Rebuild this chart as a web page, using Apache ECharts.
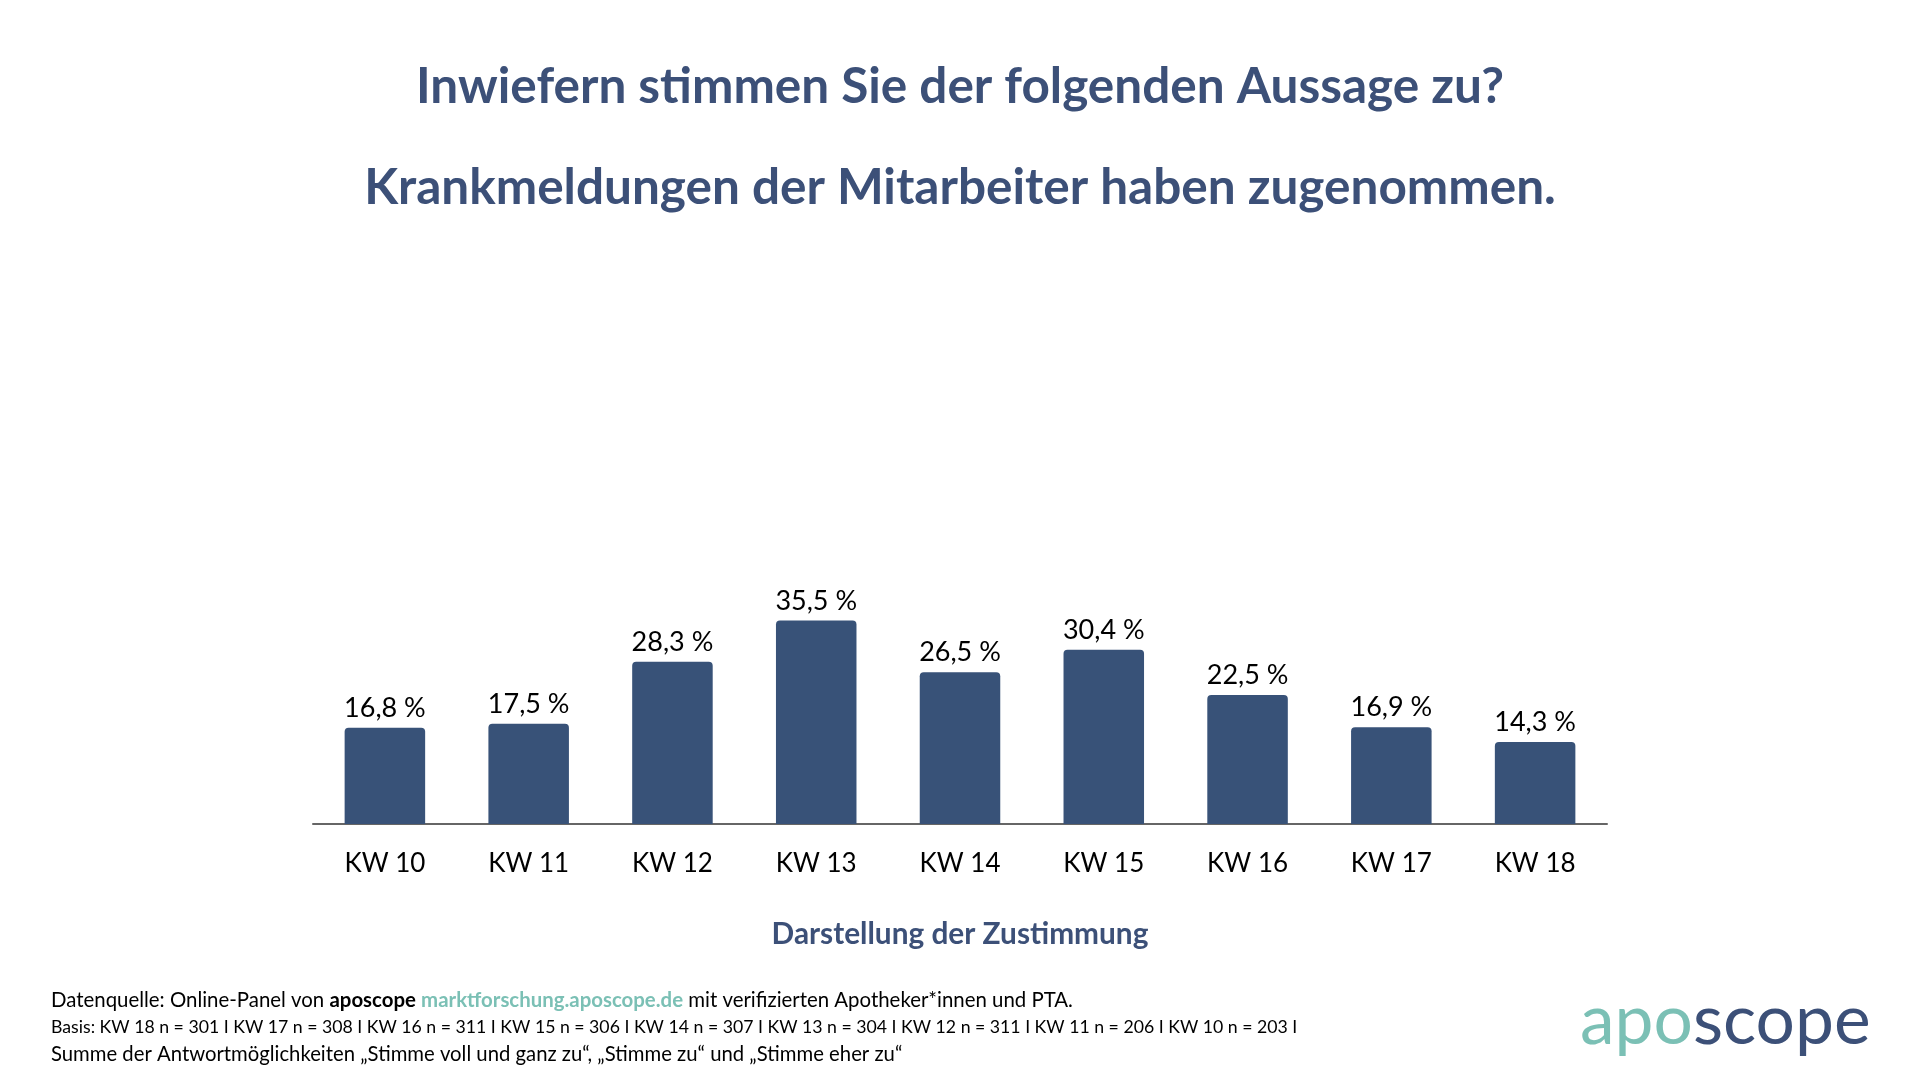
<!DOCTYPE html>
<html>
<head>
<meta charset="utf-8">
<script src="https://cdn.jsdelivr.net/npm/echarts@6/dist/echarts.min.js"></script>
<style>html,body{margin:0;padding:0;background:#fff;}#c{width:1920px;height:1080px;}</style>
</head>
<body>
<div id="c"></div>
<script>
const categories = ['KW 10','KW 11','KW 12','KW 13','KW 14','KW 15','KW 16','KW 17','KW 18'];
const values = [16.8, 17.5, 28.3, 35.5, 26.5, 30.4, 22.5, 16.9, 14.3];
const titleLine1 = 'Inwiefern stimmen Sie der folgenden Aussage zu?';
const titleLine2 = 'Krankmeldungen der Mitarbeiter haben zugenommen.';
const axisCaption = 'Darstellung der Zustimmung';
const basisLine = 'Basis: KW 18 n = 301 I KW 17 n = 308 I KW 16 n = 311 I KW 15 n = 306 I KW 14 n = 307 I KW 13 n = 304 I KW 12 n = 311 I KW 11 n = 206 I KW 10 n = 203 I';
const sumLine = 'Summe der Antwortmöglichkeiten „Stimme voll und ganz zu“, „Stimme zu“ und „Stimme eher zu“';

const navy = '#3c5078';
const barColor = '#385278';
const teal = '#7bc0b5';
const F = 'Lato';

const chart = echarts.init(document.getElementById('c'));
chart.setOption({
  backgroundColor: '#fff',
  animation: false,
  title: [
    {text: titleLine1, left: 'center', top: 57, textStyle: {fontFamily: F, fontWeight: 'bold', fontSize: 49.5, color: navy}},
    {text: titleLine2, left: 'center', top: 158, textStyle: {fontFamily: F, fontWeight: 'bold', fontSize: 49.5, color: navy}}
  ],
  grid: {left: 313, right: 313, top: 251, bottom: 256, containLabel: false},
  xAxis: {
    type: 'category', data: categories,
    axisLine: {lineStyle: {color: '#666', width: 2}},
    axisTick: {show: false},
    axisLabel: {fontFamily: F, fontSize: 26, color: '#000', margin: 27},
    name: axisCaption, nameLocation: 'middle', nameGap: 95,
    nameTextStyle: {fontFamily: F, fontWeight: 'bold', fontSize: 29.8, color: navy}
  },
  yAxis: {type: 'value', min: 0, max: 100, show: false, splitLine: {show: false}},
  series: [{
    type: 'bar', data: values, barCategoryGap: '44%',
    itemStyle: {color: barColor, borderRadius: [4,4,0,0]},
    label: {show: true, position: 'top', distance: 6, fontFamily: F, fontSize: 27, color: '#000',
      formatter: p => p.value.toFixed(1).replace('.', ',') + ' %'}
  }],
  graphic: [
    {type: 'text', left: 51, top: 990, style: {
      text: '{n|Datenquelle: Online-Panel von }{b|aposcope}{n| }{t|marktforschung.aposcope.de}{n| mit verifizierten Apotheker*innen und PTA.}',
      rich: {
        n: {fontFamily: F, fontSize: 20.4, fill: '#000'},
        b: {fontFamily: F, fontSize: 20.4, fontWeight: 'bold', fill: '#000'},
        t: {fontFamily: F, fontSize: 20.4, fontWeight: 'bold', fill: teal}
      }}},
    {type: 'text', left: 51, top: 1018, style: {text: basisLine, fontFamily: F, fontSize: 17.7, fill: '#000'}},
    {type: 'text', left: 51, top: 1044, style: {text: sumLine, fontFamily: F, fontSize: 20.3, fill: '#000'}},
    {type: 'text', left: 1580, top: 987, style: {
      text: '{a|apo}{s|scope}',
      rich: {
        a: {fontFamily: F, fontSize: 69.5, fill: teal},
        s: {fontFamily: F, fontSize: 69.5, fill: navy}
      }}}
  ]
});
</script>
</body>
</html>
